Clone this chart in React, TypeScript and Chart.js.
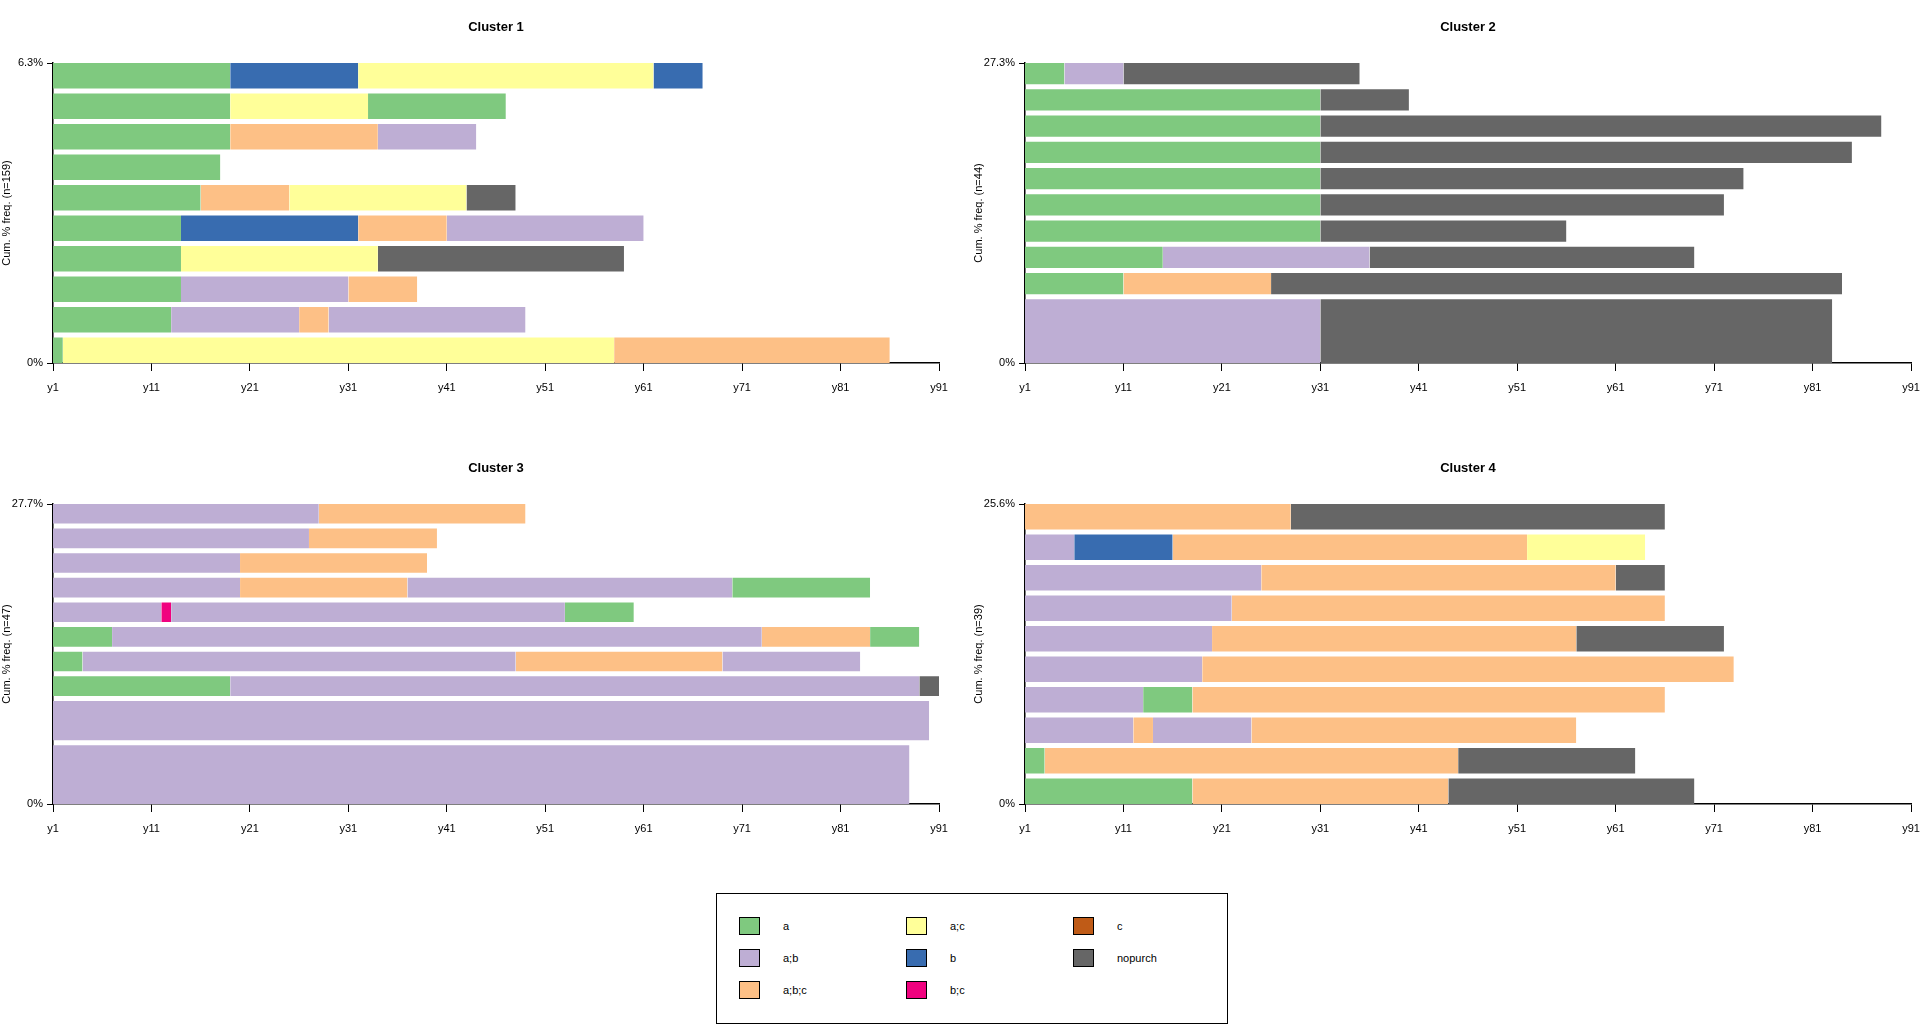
import React, { useEffect, useRef } from "react";
import { Chart, registerables } from "chart.js";
Chart.register(...registerables);

const stateNames = ["a", "a;b", "a;b;c", "a;c", "b", "b;c", "c", "nopurch"];
const stateColors = ["#7FC97F", "#BEAED4", "#FDC086", "#FFFF99", "#386CB0", "#F0027F", "#BF5B17", "#666666"];
const xTickLabels = ["y1", "y11", "y21", "y31", "y41", "y51", "y61", "y71", "y81", "y91"];

// sequences listed top to bottom; each spell = [state, end position]
const c1Seqs: [string, number][][] = [
  [["a", 18], ["b", 31], ["a;c", 61], ["b", 66]],
  [["a", 18], ["a;c", 32], ["a", 46]],
  [["a", 18], ["a;b;c", 33], ["a;b", 43]],
  [["a", 17]],
  [["a", 15], ["a;b;c", 24], ["a;c", 42], ["nopurch", 47]],
  [["a", 13], ["b", 31], ["a;b;c", 40], ["a;b", 60]],
  [["a", 13], ["a;c", 33], ["nopurch", 58]],
  [["a", 13], ["a;b", 30], ["a;b;c", 37]],
  [["a", 12], ["a;b", 25], ["a;b;c", 28], ["a;b", 48]],
  [["a", 1], ["a;c", 57], ["a;b;c", 85]],
];
const c1Freq = [1, 1, 1, 1, 1, 1, 1, 1, 1, 1];
const c2Seqs: [string, number][][] = [
  [["a", 4], ["a;b", 10], ["nopurch", 34]],
  [["a", 30], ["nopurch", 39]],
  [["a", 30], ["nopurch", 87]],
  [["a", 30], ["nopurch", 84]],
  [["a", 30], ["nopurch", 73]],
  [["a", 30], ["nopurch", 71]],
  [["a", 30], ["nopurch", 55]],
  [["a", 14], ["a;b", 35], ["nopurch", 68]],
  [["a", 10], ["a;b;c", 25], ["nopurch", 83]],
  [["a;b", 30], ["nopurch", 82]],
];
const c2Freq = [1, 1, 1, 1, 1, 1, 1, 1, 1, 3];
const c3Seqs: [string, number][][] = [
  [["a;b", 27], ["a;b;c", 48]],
  [["a;b", 26], ["a;b;c", 39]],
  [["a;b", 19], ["a;b;c", 38]],
  [["a;b", 19], ["a;b;c", 36], ["a;b", 69], ["a", 83]],
  [["a;b", 11], ["b;c", 12], ["a;b", 52], ["a", 59]],
  [["a", 6], ["a;b", 72], ["a;b;c", 83], ["a", 88]],
  [["a", 3], ["a;b", 47], ["a;b;c", 68], ["a;b", 82]],
  [["a", 18], ["a;b", 88], ["nopurch", 91]],
  [["a;b", 89]],
  [["a;b", 87]],
];
const c3Freq = [1, 1, 1, 1, 1, 1, 1, 1, 2, 3];
const c4Seqs: [string, number][][] = [
  [["a;b;c", 27], ["nopurch", 65]],
  [["a;b", 5], ["b", 15], ["a;b;c", 51], ["a;c", 63]],
  [["a;b", 24], ["a;b;c", 60], ["nopurch", 65]],
  [["a;b", 21], ["a;b;c", 65]],
  [["a;b", 19], ["a;b;c", 56], ["nopurch", 71]],
  [["a;b", 18], ["a;b;c", 72]],
  [["a;b", 12], ["a", 17], ["a;b;c", 65]],
  [["a;b", 11], ["a;b;c", 13], ["a;b", 23], ["a;b;c", 56]],
  [["a", 2], ["a;b;c", 44], ["nopurch", 62]],
  [["a", 17], ["a;b;c", 43], ["nopurch", 68]],
];
const c4Freq = [1, 1, 1, 1, 1, 1, 1, 1, 1, 1];
const clusterTitles = ["Cluster 1", "Cluster 2", "Cluster 3", "Cluster 4"];
const clusterN = [159, 44, 47, 39];

const FONT = "'Liberation Sans', Arial, sans-serif";

function Panel({ seqs, freq, n, title, left, top }: any) {
  const ref = useRef<HTMLCanvasElement>(null);
  useEffect(() => {
    const sum = freq.reduce((a: number, b: number) => a + b, 0);
    const T = (sum / n) * 100;
    const g = (T * 5) / 300;
    const avail = T - (seqs.length - 1) * g;
    const datasets: any[] = [];
    let cum = 0;
    for (let i = seqs.length - 1; i >= 0; i--) {
      const h = (freq[i] / sum) * avail;
      const bottom = cum;
      const topV = cum + h;
      let start = 0;
      for (const [st, end] of seqs[i]) {
        const col = stateColors[stateNames.indexOf(st)];
        datasets.push({
          type: "line",
          data: [{ x: start, y: topV }, { x: end, y: topV }],
          fill: { value: bottom },
          backgroundColor: col,
          borderColor: col,
          borderWidth: 0,
          pointRadius: 0,
          tension: 0,
        });
        start = end;
      }
      cum = topV + g;
    }
    const chart = new Chart(ref.current!, {
      type: "line",
      data: { datasets },
      options: {
        animation: false,
        responsive: false,
        devicePixelRatio: 1,
        layout: { padding: { top: 63, right: 21, left: 0, bottom: 0 } },
        plugins: { legend: { display: false }, tooltip: { enabled: false }, title: { display: false } },
        scales: {
          x: {
            type: "linear",
            min: 0,
            max: 90,
            afterBuildTicks: (s: any) => { s.ticks = xTickLabels.map((_, k) => ({ value: k * 10 })); },
            afterFit: (s: any) => { s.height = 420 - 363; },
            ticks: {
              callback: (v: any) => xTickLabels[Math.round(v / 10)],
              color: "#000",
              font: { family: FONT, size: 11 },
              padding: 10,
              maxRotation: 0,
            },
            grid: { drawOnChartArea: false, tickLength: 8, color: "#000" },
            border: { color: "#000", width: 1.5 },
          },
          y: {
            type: "linear",
            min: 0,
            max: T,
            afterBuildTicks: (s: any) => { s.ticks = [{ value: 0 }, { value: T }]; },
            afterFit: (s: any) => { s.width = 53; },
            ticks: {
              callback: (v: any) => (v === 0 ? "0%" : T.toFixed(1) + "%"),
              color: "#000",
              font: { family: FONT, size: 11 },
              padding: 4,
            },
            title: {
              display: true,
              text: `Cum. % freq. (n=${n})`,
              color: "#000",
              font: { family: FONT, size: 11 },
              padding: 0,
            },
            grid: { drawOnChartArea: false, tickLength: 6, color: "#000" },
            border: { color: "#000", width: 1.5 },
          },
        },
      },
    });
    return () => chart.destroy();
  }, []);
  return (
    <div style={{ position: "absolute", left, top, width: 960, height: 420 }}>
      <div style={{ position: "absolute", left: 53, width: 886, top: 19, textAlign: "center", fontFamily: FONT, fontWeight: "bold", fontSize: 13 }}>{title}</div>
      <canvas ref={ref} width={960} height={420} style={{ display: "block" }} />
    </div>
  );
}

export default function App() {
  const all = [
    [c1Seqs, c1Freq], [c2Seqs, c2Freq], [c3Seqs, c3Freq], [c4Seqs, c4Freq],
  ];
  const pos = [[0, 0], [972, 0], [0, 441], [972, 441]];
  const legendItems = [
    ["a", 0, 0], ["a;b", 0, 1], ["a;b;c", 0, 2], ["a;c", 1, 0], ["b", 1, 1], ["b;c", 1, 2], ["c", 2, 0], ["nopurch", 2, 1],
  ];
  return (
    <div style={{ position: "fixed", left: 0, top: 0, width: 1920, height: 1024, background: "#fff" }}>
      {all.map((c, i) => (
        <Panel key={i} seqs={c[0]} freq={c[1]} n={clusterN[i]} title={clusterTitles[i]} left={pos[i][0]} top={pos[i][1]} />
      ))}
      <div style={{ position: "absolute", left: 716, top: 893, width: 510, height: 129, border: "1px solid #000", fontFamily: FONT, fontSize: 11 }}>
        {legendItems.map(([name, col, row]: any) => (
          <div key={name} style={{ position: "absolute", left: 22 + col * 167, top: 23 + row * 32, display: "flex", alignItems: "center" }}>
            <div style={{ width: 19, height: 16, border: "1px solid #000", background: stateColors[stateNames.indexOf(name)] }} />
            <span style={{ marginLeft: 23 }}>{name}</span>
          </div>
        ))}
      </div>
    </div>
  );
}
